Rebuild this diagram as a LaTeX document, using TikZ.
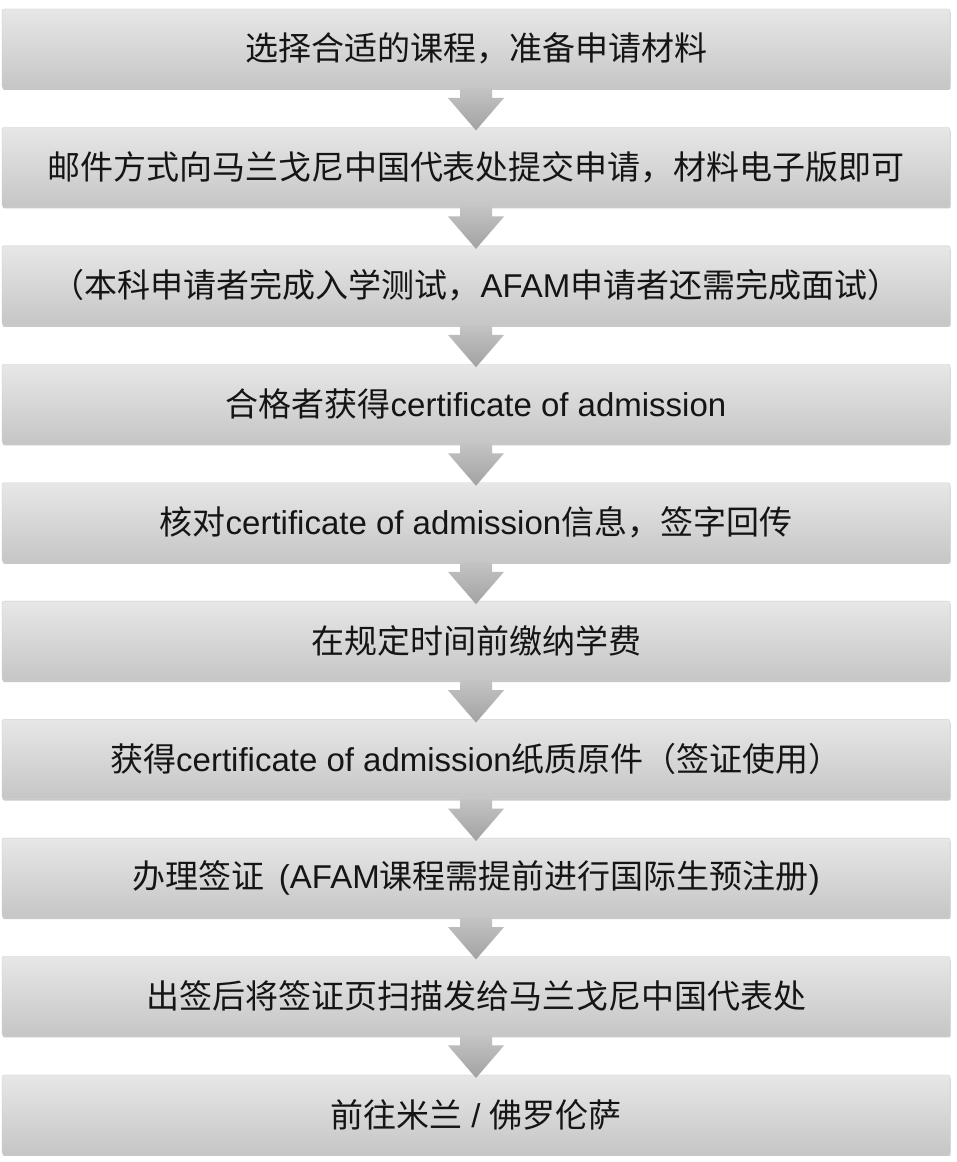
\documentclass[tikz,border=0pt]{standalone}
\usepackage{fontspec}
\setmainfont{Noto Sans CJK SC}
\newfontfamily\lat{Liberation Sans}
\usetikzlibrary{calc,shadows}
\definecolor{boxtop}{HTML}{E7E7E7}
\definecolor{boxmid}{HTML}{DDDDDD}
\definecolor{boxbot}{HTML}{C6C6C6}
\definecolor{boxedge}{HTML}{CFCFCF}
\definecolor{arrtop}{HTML}{C4C4C4}
\definecolor{arrbot}{HTML}{A2A2A2}
\definecolor{txt}{HTML}{151515}
\tikzset{
  stepbox/.style={rectangle, rounded corners=2pt, minimum width=948pt, minimum height=79pt,
    outer sep=0pt, inner sep=0pt, top color=boxtop, middle color=boxmid, bottom color=boxbot,
    draw=boxedge, line width=0.4pt, text=txt, font=\fontsize{33}{40}\selectfont,
    drop shadow={shadow xshift=0.6pt, shadow yshift=-2pt, fill=black, opacity=0.22}},
  flowarrow/.style={top color=arrtop, bottom color=arrbot, draw=none}
}
\newcommand\flowarr[2]{%
  \shade[flowarrow] ($(#1.south)+(-16,0)$) -- ($(#1.south)+(16,0)$) -- ($(#1.south)+(16,-10)$)
    -- ($(#1.south)+(28,-10)$) -- ($(#2.north)+(0,-3)$) -- ($(#1.south)+(-28,-10)$)
    -- ($(#1.south)+(-16,-10)$) -- cycle;}
\begin{document}
\begin{tikzpicture}[x=1pt,y=1pt]
\useasboundingbox[fill=white] (0,0) rectangle (956,1162);
\node[stepbox] (b1) at (476,1113.5) {选择合适的课程，准备申请材料};
\node[stepbox] (b2) at (476,995) {邮件方式向马兰戈尼中国代表处提交申请，材料电子版即可};
\node[stepbox] (b3) at (476,876.6) {（本科申请者完成入学测试，{\lat AFAM}申请者还需完成面试）};
\node[stepbox] (b4) at (476,758.2) {合格者获得{\lat certificate of admission}};
\node[stepbox] (b5) at (476,639.7) {核对{\lat certificate of admission}信息，签字回传};
\node[stepbox] (b6) at (476,521.3) {在规定时间前缴纳学费};
\node[stepbox] (b7) at (476,402.9) {获得{\lat certificate of admission}纸质原件（签证使用）};
\node[stepbox] (b8) at (476,284.4) {办理签证{\lat\ \,(AFAM}课程需提前进行国际生预注册{\lat )}};
\node[stepbox] (b9) at (476,166) {出签后将签证页扫描发给马兰戈尼中国代表处};
\node[stepbox] (b10) at (476,47.5) {前往米兰{\lat\ /\ }佛罗伦萨};
\flowarr{b1}{b2}
\flowarr{b2}{b3}
\flowarr{b3}{b4}
\flowarr{b4}{b5}
\flowarr{b5}{b6}
\flowarr{b6}{b7}
\flowarr{b7}{b8}
\flowarr{b8}{b9}
\flowarr{b9}{b10}
\end{tikzpicture}
\end{document}
